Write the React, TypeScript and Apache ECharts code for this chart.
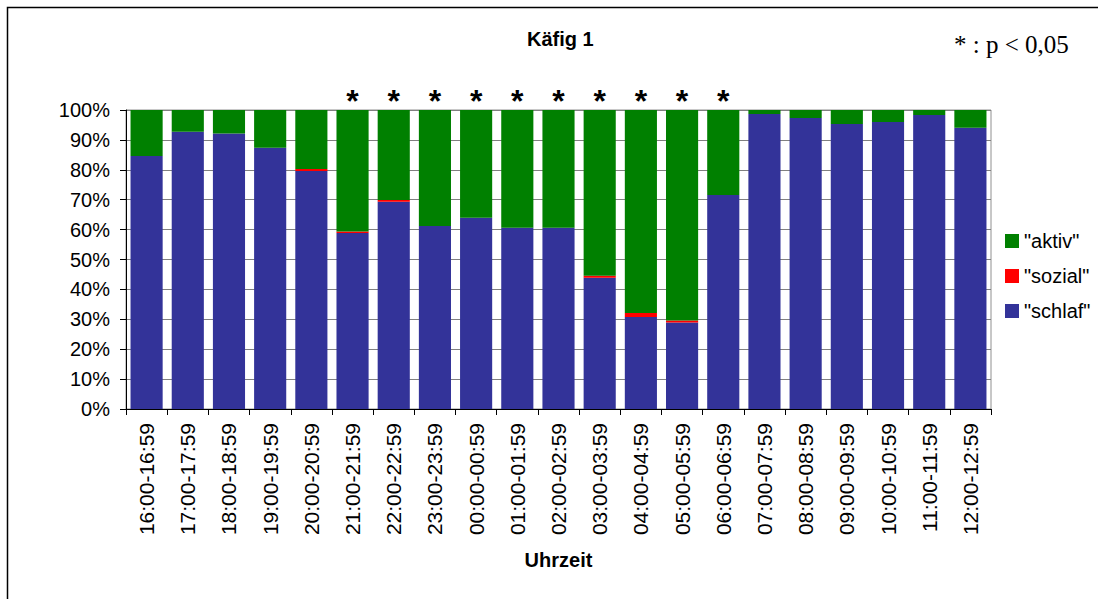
import React, { useEffect, useRef } from "react";
import * as echarts from "echarts";

const categories = [
  "16:00-16:59", "17:00-17:59", "18:00-18:59", "19:00-19:59", "20:00-20:59",
  "21:00-21:59", "22:00-22:59", "23:00-23:59", "00:00-00:59", "01:00-01:59",
  "02:00-02:59", "03:00-03:59", "04:00-04:59", "05:00-05:59", "06:00-06:59",
  "07:00-07:59", "08:00-08:59", "09:00-09:59", "10:00-10:59", "11:00-11:59",
  "12:00-12:59",
];

const schlaf = [84.6, 92.7, 92.1, 87.4, 79.6, 58.9, 69.3, 61.2, 64.0, 60.6, 60.6, 43.9, 30.8, 28.9, 71.6, 98.7, 97.3, 95.3, 96.0, 98.3, 94.1];
const sozial = [0, 0, 0, 0, 0.7, 0.5, 0.6, 0, 0, 0, 0, 0.7, 1.3, 0.7, 0, 0, 0, 0, 0, 0, 0];
const aktiv = [15.4, 7.3, 7.9, 12.6, 19.7, 40.6, 30.1, 38.8, 36.0, 39.4, 39.4, 55.4, 67.9, 70.4, 28.4, 1.3, 2.7, 4.7, 4.0, 1.7, 5.9];
const significant = [false, false, false, false, false, true, true, true, true, true, true, true, true, true, true, false, false, false, false, false, false];

const yTicks = { min: 0, max: 100, interval: 10 };

const SANS = "'Liberation Sans', Arial, sans-serif";

export default function App() {
  const ref = useRef<HTMLDivElement>(null);

  useEffect(() => {
    if (!ref.current) return;
    const chart = echarts.init(ref.current, null, { renderer: "svg" });
    chart.setOption({
      animation: false,
      backgroundColor: "#ffffff",
      title: {
        text: "Käfig 1",
        left: 522,
        top: 24,
        textStyle: { fontFamily: SANS, fontSize: 20, fontWeight: "bold", color: "#000" },
      },
      graphic: [
        {
          type: "rect",
          shape: { x: 7.5, y: 7.5, width: 1200, height: 700 },
          style: { fill: "none", stroke: "#000", lineWidth: 1.5 },
          silent: true,
        },
        {
          type: "text",
          x: 954,
          y: 44,
          style: {
            text: "* : p < 0,05",
            fontFamily: "'Liberation Serif', 'Times New Roman', serif",
            fontSize: 25,
            fill: "#000",
            verticalAlign: "middle",
          },
        },
      ],
      legend: {
        orient: "vertical",
        left: 1000,
        top: 226,
        itemWidth: 14,
        itemHeight: 14,
        itemGap: 15,
        icon: "rect",
        data: ['"aktiv"', '"sozial"', '"schlaf"'],
        textStyle: { fontFamily: SANS, fontSize: 20, color: "#000" },
      },
      grid: {
        left: 126,
        right: 107,
        top: 110,
        bottom: 190,
        show: true,
        borderColor: "#909090",
        borderWidth: 1,
      },
      xAxis: {
        type: "category",
        data: categories,
        name: "Uhrzeit",
        nameLocation: "middle",
        nameGap: 141,
        nameTextStyle: { fontFamily: SANS, fontSize: 20, fontWeight: "bold", color: "#000" },
        axisLine: { lineStyle: { color: "#000", width: 1 } },
        axisTick: { show: true, length: 6, lineStyle: { color: "#000" } },
        axisLabel: {
          interval: 0,
          rotate: 90,
          margin: 14,
          fontFamily: SANS,
          fontSize: 21,
          color: "#000",
        },
      },
      yAxis: {
        type: "value",
        min: yTicks.min,
        max: yTicks.max,
        interval: yTicks.interval,
        axisLine: { show: true, lineStyle: { color: "#000", width: 1 } },
        axisTick: { show: true, length: 6, lineStyle: { color: "#000" } },
        axisLabel: {
          formatter: "{value}%",
          margin: 16,
          fontFamily: SANS,
          fontSize: 20,
          color: "#000",
        },
        splitLine: { show: true, lineStyle: { color: "#808080", width: 1 } },
      },
      series: [
        {
          name: '"schlaf"',
          type: "bar",
          stack: "total",
          barCategoryGap: "22%",
          itemStyle: { color: "#333399" },
          data: schlaf,
        },
        {
          name: '"sozial"',
          type: "bar",
          stack: "total",
          barCategoryGap: "22%",
          itemStyle: { color: "#FF0000" },
          data: sozial,
        },
        {
          name: '"aktiv"',
          type: "bar",
          stack: "total",
          barCategoryGap: "22%",
          itemStyle: { color: "#008000" },
          label: {
            position: "top",
            distance: -7,
            formatter: "*",
            fontFamily: SANS,
            fontSize: 32,
            fontWeight: "bold",
            color: "#000",
          },
          data: aktiv.map((v, i) => ({ value: v, label: { show: significant[i] } })),
        },
      ],
    });
    return () => chart.dispose();
  }, []);

  return (
    <div
      ref={ref}
      style={{ position: "absolute", left: 0, top: 0, width: 1098, height: 599 }}
    />
  );
}
